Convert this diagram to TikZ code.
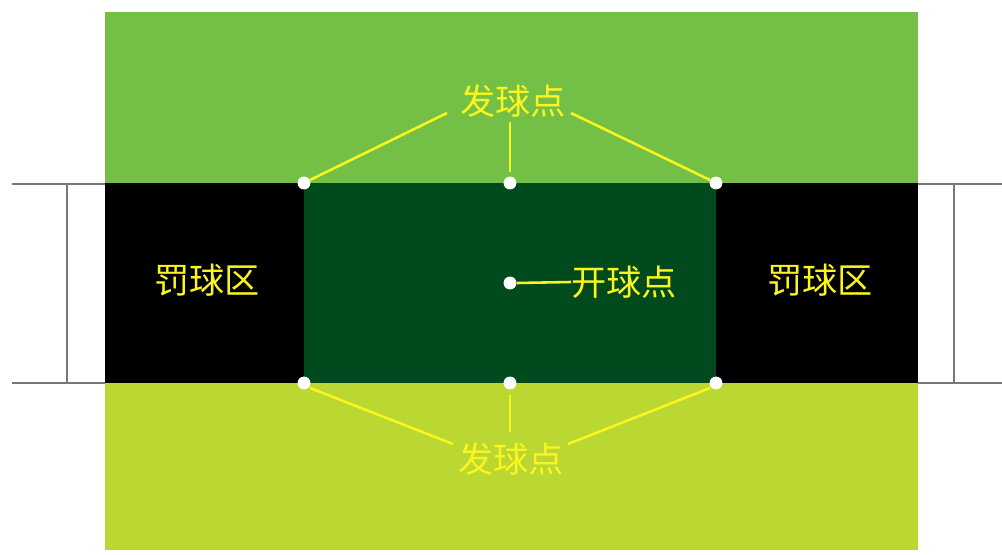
\documentclass[tikz,border=0pt]{standalone}
\usepackage{fontspec}
\newfontfamily\cjk{Noto Sans CJK SC}
\definecolor{topgreen}{RGB}{116,192,70}
\definecolor{botgreen}{RGB}{187,215,50}
\definecolor{fieldgreen}{RGB}{0,74,30}
\definecolor{labelyellow}{RGB}{250,245,30}
\definecolor{linegray}{RGB}{120,120,120}
\begin{document}
\begin{tikzpicture}[x=0.03cm,y=-0.03cm,
  spot/.style={circle,fill=white,inner sep=0pt,minimum size=11pt},
  lbl/.style={text=labelyellow,inner sep=0pt,font=\cjk\fontsize{30}{32}\selectfont},
  pointer/.style={draw=labelyellow,line width=2.2pt},
  goalline/.style={draw=linegray,line width=1.1pt}]
\useasboundingbox (0,0) rectangle (1002,554);
% field areas
\fill[topgreen] (105,12) rectangle (918,183);
\fill[botgreen] (105,383) rectangle (918,550);
\fill[black] (105,183) rectangle (304,383);
\fill[black] (716,183) rectangle (918,383);
\fill[fieldgreen] (304,183) rectangle (716,383);
% goal lines
\draw[goalline] (12,184) -- (105,184);
\draw[goalline] (12,383) -- (105,383);
\draw[goalline] (67,184) -- (67,383);
\draw[goalline] (918,184) -- (1002,184);
\draw[goalline] (918,383) -- (1002,383);
\draw[goalline] (954,184) -- (954,383);
% spots
\node[spot] (t1) at (304,183) {};
\node[spot] (t2) at (510,183) {};
\node[spot] (t3) at (716,183) {};
\node[spot] (b1) at (304,383) {};
\node[spot] (b2) at (510,383) {};
\node[spot] (b3) at (716,383) {};
\node[spot] (c) at (510,283) {};
% labels
\node[lbl] (toplbl) at (513,101) {发球点};
\node[lbl] (botlbl) at (511,459) {发球点};
\node[lbl,anchor=west] (clbl) at (571,282) {开球点};
\node[lbl] (lz) at (207,280) {罚球区};
\node[lbl] (rz) at (820,280) {罚球区};
% connector ends
\coordinate (ta) at (447,113);
\coordinate (tb) at (571,113);
\coordinate (ba) at (453,444);
\coordinate (bb) at (568,444);
% pointers
\draw[pointer] (ta) -- ([shift={(6,-3)}]t1.center);
\draw[pointer] ([shift={(0,-61)}]t2.center) -- ([shift={(0,-11)}]t2.center);
\draw[pointer] (tb) -- ([shift={(-6,-3)}]t3.center);
\draw[pointer] (ba) -- ([shift={(6,5)}]b1.center);
\draw[pointer] ([shift={(0,49)}]b2.center) -- ([shift={(0,12)}]b2.center);
\draw[pointer] (bb) -- ([shift={(-6,5)}]b3.center);
\draw[pointer] (c.east) -- (clbl.west);
\end{tikzpicture}
\end{document}
